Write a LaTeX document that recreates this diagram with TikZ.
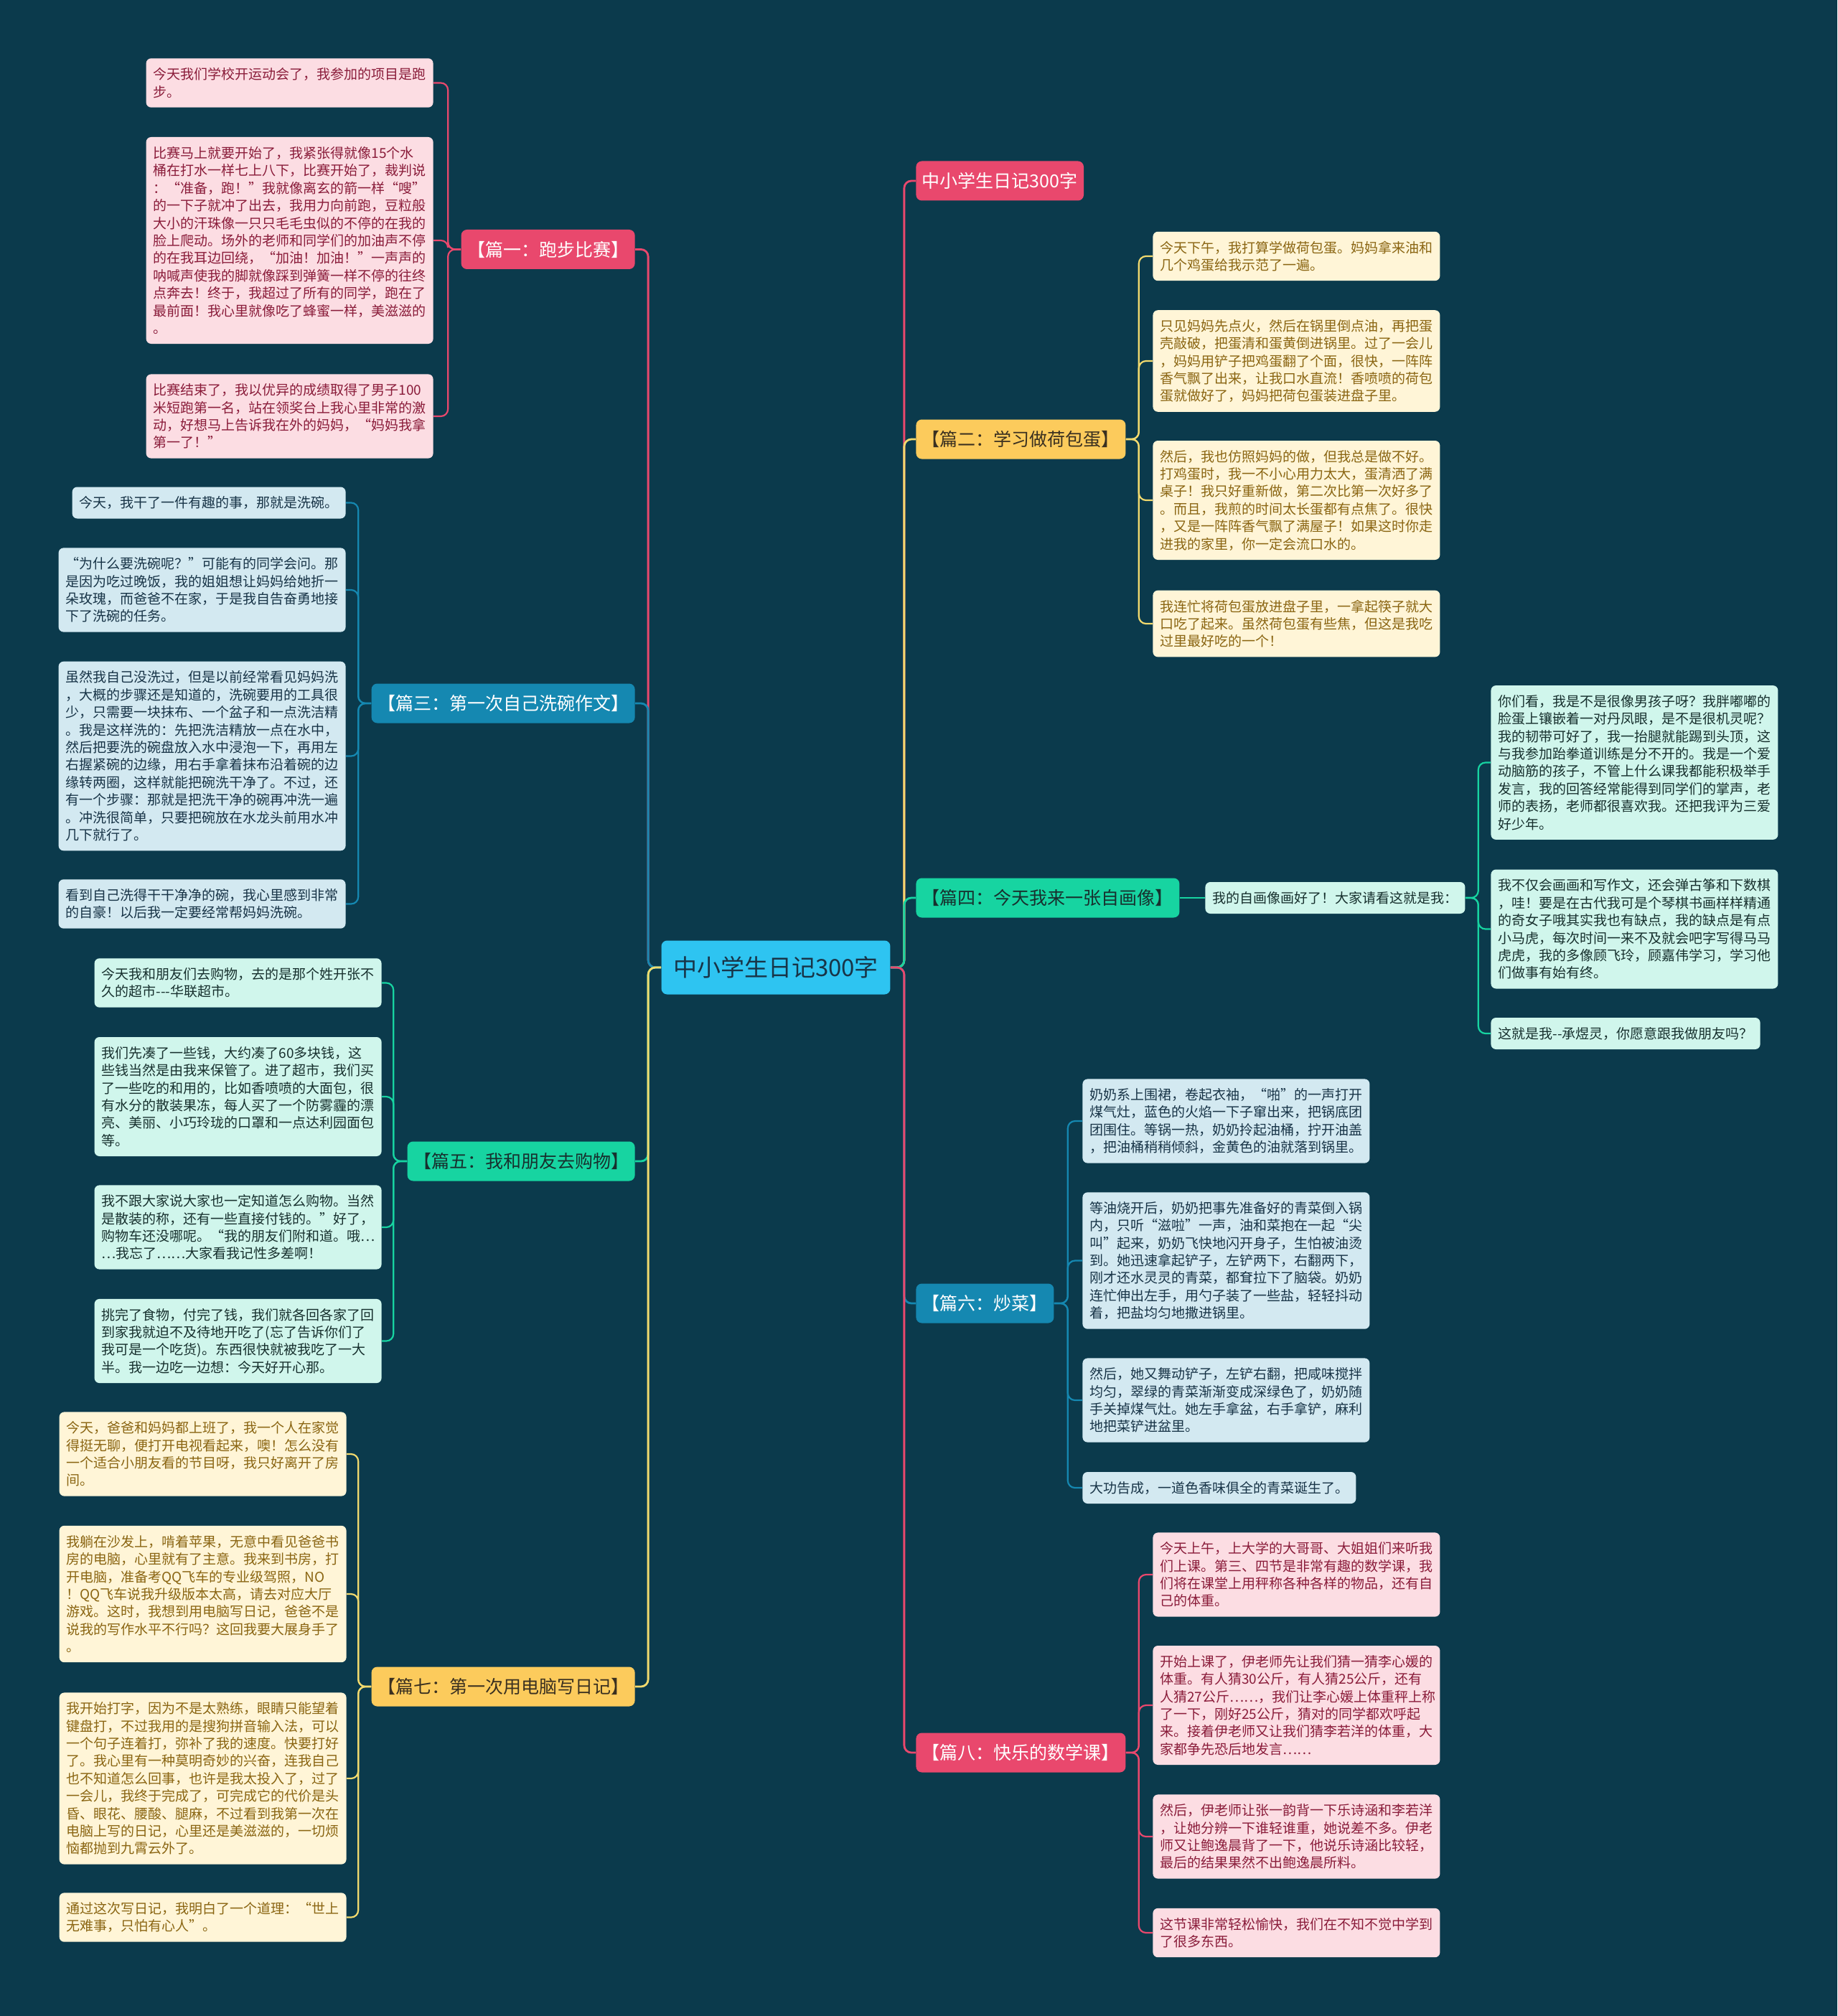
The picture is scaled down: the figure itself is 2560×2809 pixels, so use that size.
\documentclass[tikz,border=0pt]{standalone}
\usepackage{fontspec}
\setmainfont{Noto Sans CJK SC}[Ligatures=TeXOff]
\definecolor{cbg}{HTML}{0B3A4C}
\definecolor{cctr}{HTML}{2EC4F1}
\definecolor{cpink}{HTML}{E9486D}
\definecolor{cpinkl}{HTML}{FCDDE3}
\definecolor{cpinkt}{HTML}{8A1C3A}
\definecolor{cyel}{HTML}{FCCB5C}
\definecolor{cyelk}{HTML}{F2DA6E}
\definecolor{cyell}{HTML}{FFF5D7}
\definecolor{cyelt}{HTML}{8A6512}
\definecolor{cyeld}{HTML}{3A3020}
\definecolor{cgrn}{HTML}{17D4A1}
\definecolor{cgrnl}{HTML}{D0F6EC}
\definecolor{cgrnt}{HTML}{17302E}
\definecolor{cblu}{HTML}{1588B1}
\definecolor{cblul}{HTML}{D3E9F1}
\definecolor{cblut}{HTML}{183447}
\newcommand{\leaffont}{\fontsize{9.5pt}{12.2pt}\selectfont}
\newcommand{\topicfont}{\fontsize{12.5pt}{15pt}\selectfont}
\newcommand{\rootfont}{\fontsize{16.5pt}{19pt}\selectfont}

\begin{document}
\begin{tikzpicture}[
  x=0.5pt, y=-0.5pt,
  root/.style={fill=cctr, text=cblut, font=\rootfont, rounded corners=4pt,
               inner xsep=8.25pt, inner ysep=0pt, minimum height=37.5pt},
  topic/.style={fill=#1, font=\topicfont, rounded corners=4pt,
                inner xsep=4.25pt, inner ysep=0pt, minimum height=27.5pt},
  leaf/.style={font=\leaffont, align=left, text width=190pt, rounded corners=3.5pt,
               inner xsep=5pt, inner ysep=0pt, minimum height={(#1-1)*12.2pt+22pt}},
  leafone/.style={font=\leaffont, rounded corners=3.5pt,
                  inner xsep=5pt, inner ysep=0pt, minimum height=22pt},
  pk/.style={fill=cpinkl, text=cpinkt},
  yl/.style={fill=cyell, text=cyelt},
  gn/.style={fill=cgrnl, text=cgrnt},
  bl/.style={fill=cblul, text=cblut},
  trunk/.style={line width=1.4pt, rounded corners=5pt},
  twig/.style={line width=1.1pt, rounded corners=5pt},
]
\useasboundingbox (0,0) rectangle (2560,2809);
\fill[cbg] (0,0) rectangle (2560,2809);

% ------------------------------------------------------------ root
\node[root] (root) at (1081,1348) {中小学生日记300字};

% ------------------------------------------------------------ topics, right
\node[topic=cpink, text=white, anchor=west] (t0) at (1276,252) {中小学生日记300字};
\node[topic=cyel, text=cyeld, anchor=west] (t2) at (1276,612) {【篇二：学习做荷包蛋】};
\node[topic=cgrn, text=cgrnt, anchor=west] (t4) at (1276,1251) {【篇四：今天我来一张自画像】};
\node[topic=cblu, text=white, anchor=west] (t6) at (1276,1816) {【篇六：炒菜】};
\node[topic=cpink, text=white, anchor=west] (t8) at (1276,2442) {【篇八：快乐的数学课】};

% ------------------------------------------------------------ topics, left
\node[topic=cpink, text=white, anchor=east] (t1) at (885,347.5) {【篇一：跑步比赛】};
\node[topic=cblu, text=white, anchor=east] (t3) at (885,980) {【篇三：第一次自己洗碗作文】};
\node[topic=cgrn, text=cgrnt, anchor=east] (t5) at (885,1618) {【篇五：我和朋友去购物】};
\node[topic=cyel, text=cyeld, anchor=east] (t7) at (885,2350) {【篇七：第一次用电脑写日记】};

% ------------------------------------------------------------ 篇一
\node[leaf=2, pk, anchor=east] (l1a) at (604,115.5) {%
  今天我们学校开运动会了，我参加的项目是跑\\步。};
\node[leaf=11, pk, anchor=east] (l1b) at (604,335) {%
  比赛马上就要开始了，我紧张得就像15个水\\
  桶在打水一样七上八下，比赛开始了，裁判说\\
  ：“准备，跑！”我就像离玄的箭一样“嗖”\\
  的一下子就冲了出去，我用力向前跑，豆粒般\\
  大小的汗珠像一只只毛毛虫似的不停的在我的\\
  脸上爬动。场外的老师和同学们的加油声不停\\
  的在我耳边回绕，“加油！加油！”一声声的\\
  呐喊声使我的脚就像踩到弹簧一样不停的往终\\
  点奔去！终于，我超过了所有的同学，跑在了\\
  最前面！我心里就像吃了蜂蜜一样，美滋滋的\\
  。};
\node[leaf=4, pk, anchor=east] (l1c) at (604,580) {%
  比赛结束了，我以优异的成绩取得了男子100\\
  米短跑第一名，站在领奖台上我心里非常的激\\
  动，好想马上告诉我在外的妈妈，“妈妈我拿\\
  第一了！”};

% ------------------------------------------------------------ 篇三
\node[leafone, bl, anchor=east] (l3a) at (482,700.5) {今天，我干了一件有趣的事，那就是洗碗。};
\node[leaf=4, bl, anchor=east] (l3b) at (482,822) {%
  “为什么要洗碗呢？”可能有的同学会问。那\\
  是因为吃过晚饭，我的姐姐想让妈妈给她折一\\
  朵玫瑰，而爸爸不在家，于是我自告奋勇地接\\
  下了洗碗的任务。};
\node[leaf=10, bl, anchor=east] (l3c) at (482,1053.5) {%
  虽然我自己没洗过，但是以前经常看见妈妈洗\\
  ，大概的步骤还是知道的，洗碗要用的工具很\\
  少，只需要一块抹布、一个盆子和一点洗洁精\\
  。我是这样洗的：先把洗洁精放一点在水中，\\
  然后把要洗的碗盘放入水中浸泡一下，再用左\\
  右握紧碗的边缘，用右手拿着抹布沿着碗的边\\
  缘转两圈，这样就能把碗洗干净了。不过，还\\
  有一个步骤：那就是把洗干净的碗再冲洗一遍\\
  。冲洗很简单，只要把碗放在水龙头前用水冲\\
  几下就行了。};
\node[leaf=2, bl, anchor=east] (l3d) at (482,1259.5) {%
  看到自己洗得干干净净的碗，我心里感到非常\\
  的自豪！以后我一定要经常帮妈妈洗碗。};

% ------------------------------------------------------------ 篇五
\node[leaf=2, gn, anchor=east] (l5a) at (532,1369.5) {%
  今天我和朋友们去购物，去的是那个姓开张不\\
  久的超市---华联超市。};
\node[leaf=6, gn, anchor=east] (l5b) at (532,1528) {%
  我们先凑了一些钱，大约凑了60多块钱，这\\
  些钱当然是由我来保管了。进了超市，我们买\\
  了一些吃的和用的，比如香喷喷的大面包，很\\
  有水分的散装果冻，每人买了一个防雾霾的漂\\
  亮、美丽、小巧玲珑的口罩和一点达利园面包\\
  等。};
\node[leaf=4, gn, anchor=east] (l5c) at (532,1710) {%
  我不跟大家说大家也一定知道怎么购物。当然\\
  是散装的称，还有一些直接付钱的。”好了，\\
  购物车还没哪呢。“我的朋友们附和道。哦…\\
  …我忘了……大家看我记性多差啊！};
\node[leaf=4, gn, anchor=east] (l5d) at (532,1868.5) {%
  挑完了食物，付完了钱，我们就各回各家了回\\
  到家我就迫不及待地开吃了(忘了告诉你们了\\
  我可是一个吃货)。东西很快就被我吃了一大\\
  半。我一边吃一边想：今天好开心那。};

% ------------------------------------------------------------ 篇七
\node[leaf=4, yl, anchor=east] (l7a) at (483,2026) {%
  今天，爸爸和妈妈都上班了，我一个人在家觉\\
  得挺无聊，便打开电视看起来，噢！怎么没有\\
  一个适合小朋友看的节目呀，我只好离开了房\\
  间。};
\node[leaf=7, yl, anchor=east] (l7b) at (483,2221) {%
  我躺在沙发上，啃着苹果，无意中看见爸爸书\\
  房的电脑，心里就有了主意。我来到书房，打\\
  开电脑，准备考QQ飞车的专业级驾照，NO\\
  ！QQ飞车说我升级版本太高，请去对应大厅\\
  游戏。这时，我想到用电脑写日记，爸爸不是\\
  说我的写作水平不行吗？这回我要大展身手了\\
  。};
\node[leaf=9, yl, anchor=east] (l7c) at (483,2478) {%
  我开始打字，因为不是太熟练，眼睛只能望着\\
  键盘打，不过我用的是搜狗拼音输入法，可以\\
  一个句子连着打，弥补了我的速度。快要打好\\
  了。我心里有一种莫明奇妙的兴奋，连我自己\\
  也不知道怎么回事，也许是我太投入了，过了\\
  一会儿，我终于完成了，可完成它的代价是头\\
  昏、眼花、腰酸、腿麻，不过看到我第一次在\\
  电脑上写的日记，心里还是美滋滋的，一切烦\\
  恼都抛到九霄云外了。};
\node[leaf=2, yl, anchor=east] (l7d) at (483,2671.5) {%
  通过这次写日记，我明白了一个道理：“世上\\
  无难事，只怕有心人”。};

% ------------------------------------------------------------ 篇二
\node[leaf=2, yl, anchor=west] (r2a) at (1606,357) {%
  今天下午，我打算学做荷包蛋。妈妈拿来油和\\
  几个鸡蛋给我示范了一遍。};
\node[leaf=5, yl, anchor=west] (r2b) at (1606,503) {%
  只见妈妈先点火，然后在锅里倒点油，再把蛋\\
  壳敲破，把蛋清和蛋黄倒进锅里。过了一会儿\\
  ，妈妈用铲子把鸡蛋翻了个面，很快，一阵阵\\
  香气飘了出来，让我口水直流！香喷喷的荷包\\
  蛋就做好了，妈妈把荷包蛋装进盘子里。};
\node[leaf=6, yl, anchor=west] (r2c) at (1606,697) {%
  然后，我也仿照妈妈的做，但我总是做不好。\\
  打鸡蛋时，我一不小心用力太大，蛋清洒了满\\
  桌子！我只好重新做，第二次比第一次好多了\\
  。而且，我煎的时间太长蛋都有点焦了。很快\\
  ，又是一阵阵香气飘了满屋子！如果这时你走\\
  进我的家里，你一定会流口水的。};
\node[leaf=3, yl, anchor=west] (r2d) at (1606,869) {%
  我连忙将荷包蛋放进盘子里，一拿起筷子就大\\
  口吃了起来。虽然荷包蛋有些焦，但这是我吃\\
  过里最好吃的一个！};

% ------------------------------------------------------------ 篇四
\node[leafone, gn, anchor=west] (r4) at (1679,1251) {我的自画像画好了！大家请看这就是我：};
\node[leaf=8, gn, anchor=west] (r4a) at (2077,1062.5) {%
  你们看，我是不是很像男孩子呀？我胖嘟嘟的\\
  脸蛋上镶嵌着一对丹凤眼，是不是很机灵呢？\\
  我的韧带可好了，我一抬腿就能踢到头顶，这\\
  与我参加跆拳道训练是分不开的。我是一个爱\\
  动脑筋的孩子，不管上什么课我都能积极举手\\
  发言，我的回答经常能得到同学们的掌声，老\\
  师的表扬，老师都很喜欢我。还把我评为三爱\\
  好少年。};
\node[leaf=6, gn, anchor=west] (r4b) at (2077,1294.5) {%
  我不仅会画画和写作文，还会弹古筝和下数棋\\
  ，哇！要是在古代我可是个琴棋书画样样精通\\
  的奇女子哦其实我也有缺点，我的缺点是有点\\
  小马虎，每次时间一来不及就会吧字写得马马\\
  虎虎，我的多像顾飞玲，顾嘉伟学习，学习他\\
  们做事有始有终。};
\node[leafone, gn, anchor=west] (r4c) at (2077,1440) {这就是我--承煜灵，你愿意跟我做朋友吗？};

% ------------------------------------------------------------ 篇六
\node[leaf=4, bl, anchor=west] (r6a) at (1508,1562) {%
  奶奶系上围裙，卷起衣袖，“啪”的一声打开\\
  煤气灶，蓝色的火焰一下子窜出来，把锅底团\\
  团围住。等锅一热，奶奶拎起油桶，拧开油盖\\
  ，把油桶稍稍倾斜，金黄色的油就落到锅里。};
\node[leaf=7, bl, anchor=west] (r6b) at (1508,1756.5) {%
  等油烧开后，奶奶把事先准备好的青菜倒入锅\\
  内，只听“滋啦”一声，油和菜抱在一起“尖\\
  叫”起来，奶奶飞快地闪开身子，生怕被油烫\\
  到。她迅速拿起铲子，左铲两下，右翻两下，\\
  刚才还水灵灵的青菜，都耷拉下了脑袋。奶奶\\
  连忙伸出左手，用勺子装了一些盐，轻轻抖动\\
  着，把盐均匀地撒进锅里。};
\node[leaf=4, bl, anchor=west] (r6c) at (1508,1951) {%
  然后，她又舞动铲子，左铲右翻，把咸味搅拌\\
  均匀，翠绿的青菜渐渐变成深绿色了，奶奶随\\
  手关掉煤气灶。她左手拿盆，右手拿铲，麻利\\
  地把菜铲进盆里。};
\node[leafone, bl, anchor=west] (r6d) at (1508,2073) {大功告成，一道色香味俱全的青菜诞生了。};

% ------------------------------------------------------------ 篇八
\node[leaf=4, pk, anchor=west] (r8a) at (1606,2194) {%
  今天上午，上大学的大哥哥、大姐姐们来听我\\
  们上课。第三、四节是非常有趣的数学课，我\\
  们将在课堂上用秤称各种各样的物品，还有自\\
  己的体重。};
\node[leaf=6, pk, anchor=west] (r8b) at (1606,2376) {%
  开始上课了，伊老师先让我们猜一猜李心媛的\\
  体重。有人猜30公斤，有人猜25公斤，还有\\
  人猜27公斤……，我们让李心媛上体重秤上称\\
  了一下，刚好25公斤，猜对的同学都欢呼起\\
  来。接着伊老师又让我们猜李若洋的体重，大\\
  家都争先恐后地发言……};
\node[leaf=4, pk, anchor=west] (r8c) at (1606,2559) {%
  然后，伊老师让张一韵背一下乐诗涵和李若洋\\
  ，让她分辨一下谁轻谁重，她说差不多。伊老\\
  师又让鲍逸晨背了一下，他说乐诗涵比较轻，\\
  最后的结果果然不出鲍逸晨所料。};
\node[leaf=2, pk, anchor=west] (r8d) at (1606,2693) {%
  这节课非常轻松愉快，我们在不知不觉中学到\\
  了很多东西。};

% ------------------------------------------------------------ root to topics
\draw[trunk, cpink] (root.east) -- ++(19,0) |- (t0.west);
\draw[trunk, cyelk] (root.east) -- ++(19,0) |- (t2.west);
\draw[trunk, cgrn]  (root.east) -- ++(19,0) |- (t4.west);
\draw[trunk, cblu]  (root.east) -- ++(19,0) |- (t6.west);
\draw[trunk, cpink] (root.east) -- ++(19,0) |- (t8.west);
\draw[trunk, cpink] (root.west) -- ++(-18,0) |- (t1.east);
\draw[trunk, cblu]  (root.west) -- ++(-18,0) |- (t3.east);
\draw[trunk, cgrn]  (root.west) -- ++(-18,0) |- (t5.east);
\draw[trunk, cyelk] (root.west) -- ++(-18,0) |- (t7.east);

% ------------------------------------------------------------ topics to leaves
\foreach \n in {l1a,l1b,l1c} \draw[twig, cpink] (t1.west) -- ++(-18,0) |- (\n.east);
\foreach \n in {l3a,l3b,l3c,l3d} \draw[twig, cblu] (t3.west) -- ++(-18,0) |- (\n.east);
\foreach \n in {l5a,l5b,l5c,l5d} \draw[twig, cgrn] (t5.west) -- ++(-19,0) |- (\n.east);
\foreach \n in {l7a,l7b,l7c,l7d} \draw[twig, cyelk] (t7.west) -- ++(-18,0) |- (\n.east);
\foreach \n in {r2a,r2b,r2c,r2d} \draw[twig, cyelk] (t2.east) -- ++(18,0) |- (\n.west);
\draw[twig, cgrn] (t4.east) -- (r4.west);
\foreach \n in {r4a,r4b,r4c} \draw[twig, cgrn] (r4.east) -- ++(18,0) |- (\n.west);
\foreach \n in {r6a,r6b,r6c,r6d} \draw[twig, cblu] (t6.east) -- ++(19,0) |- (\n.west);
\foreach \n in {r8a,r8b,r8c,r8d} \draw[twig, cpink] (t8.east) -- ++(18,0) |- (\n.west);
\end{tikzpicture}
\end{document}
